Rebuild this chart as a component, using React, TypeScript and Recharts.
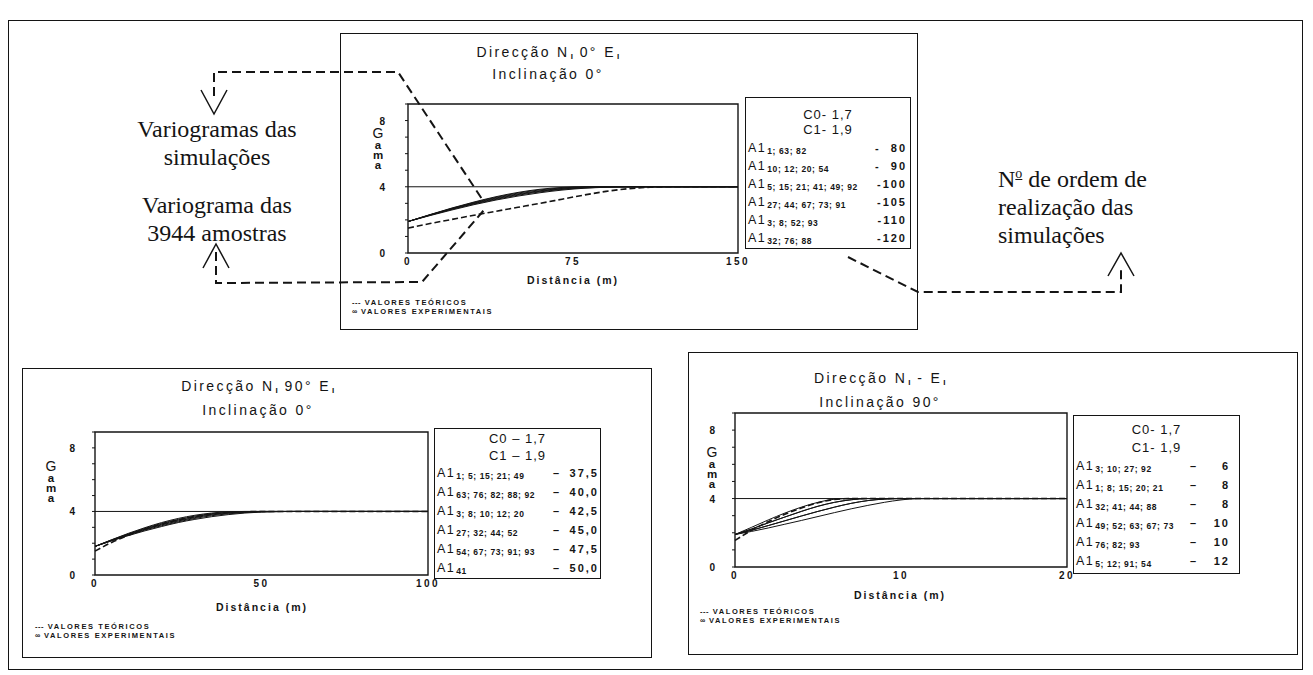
import React from 'react';
import { LineChart, Line, XAxis, YAxis, ReferenceLine, ReferenceArea } from 'recharts';

// ---------- shared ----------
const SILL = 4;
const Y_TICKS = [0, 1, 2, 3, 4, 5, 6, 7, 8, 9];
const Y_LABELS = [0, 4, 8];

// ---------- top panel: Direcção N 0° E, Inclinação 0° ----------
const TOP_DIST = [0, 10, 20, 30, 40, 50, 60, 70, 80, 90, 100, 110, 120, 130, 140, 150];
const TOP_SIM_80 = [1.9, 2.32, 2.72, 3.08, 3.4, 3.66, 3.85, 3.96, 4.0, 4.0, 4.0, 4.0, 4.0, 4.0, 4.0, 4.0];
const TOP_SIM_90 = [1.9, 2.31, 2.7, 3.05, 3.36, 3.62, 3.81, 3.93, 3.99, 4.0, 4.0, 4.0, 4.0, 4.0, 4.0, 4.0];
const TOP_SIM_100 = [1.9, 2.3, 2.68, 3.02, 3.32, 3.57, 3.76, 3.9, 3.97, 4.0, 4.0, 4.0, 4.0, 4.0, 4.0, 4.0];
const TOP_SIM_105 = [1.9, 2.29, 2.66, 2.99, 3.28, 3.53, 3.73, 3.87, 3.95, 3.99, 4.0, 4.0, 4.0, 4.0, 4.0, 4.0];
const TOP_SIM_110 = [1.9, 2.28, 2.64, 2.96, 3.24, 3.49, 3.69, 3.84, 3.93, 3.98, 4.0, 4.0, 4.0, 4.0, 4.0, 4.0];
const TOP_SIM_120 = [1.9, 2.26, 2.6, 2.92, 3.2, 3.44, 3.64, 3.8, 3.91, 3.97, 4.0, 4.0, 4.0, 4.0, 4.0, 4.0];
const TOP_THEO = [1.5, 1.78, 2.03, 2.28, 2.52, 2.76, 3.0, 3.25, 3.5, 3.72, 3.88, 3.97, 4.0, 4.0, 4.0, 4.0];
const TOP_X_TICKS = [0, 75, 150];
const TOP_SETS = ['1; 63; 82', '10; 12; 20; 54', '5; 15; 21; 41; 49; 92', '27; 44; 67; 73; 91', '3; 8; 52; 93', '32; 76; 88'];
const TOP_RANGES = ['80', '90', '100', '105', '110', '120'];

// ---------- bottom-left panel: Direcção N 90° E, Inclinação 0° ----------
const BL_DIST = [0, 5, 10, 15, 20, 25, 30, 35, 40, 45, 50, 60, 70, 80, 90, 100];
const BL_SIM_375 = [1.8, 2.22, 2.62, 2.98, 3.3, 3.56, 3.76, 3.9, 3.98, 4.0, 4.0, 4.0, 4.0, 4.0, 4.0, 4.0];
const BL_SIM_400 = [1.8, 2.21, 2.59, 2.94, 3.25, 3.5, 3.71, 3.86, 3.95, 3.99, 4.0, 4.0, 4.0, 4.0, 4.0, 4.0];
const BL_SIM_425 = [1.8, 2.19, 2.56, 2.9, 3.2, 3.45, 3.66, 3.82, 3.92, 3.98, 4.0, 4.0, 4.0, 4.0, 4.0, 4.0];
const BL_SIM_450 = [1.8, 2.18, 2.54, 2.87, 3.15, 3.4, 3.61, 3.78, 3.89, 3.96, 3.99, 4.0, 4.0, 4.0, 4.0, 4.0];
const BL_SIM_475 = [1.8, 2.16, 2.51, 2.83, 3.1, 3.35, 3.56, 3.73, 3.85, 3.93, 3.98, 4.0, 4.0, 4.0, 4.0, 4.0];
const BL_SIM_500 = [1.8, 2.15, 2.48, 2.78, 3.05, 3.3, 3.5, 3.67, 3.8, 3.9, 3.96, 4.0, 4.0, 4.0, 4.0, 4.0];
const BL_THEO = [1.5, 2.05, 2.5, 2.88, 3.2, 3.46, 3.67, 3.83, 3.93, 3.98, 4.0, 4.0, 4.0, 4.0, 4.0, 4.0];
const BL_X_TICKS = [0, 50, 100];
const BL_SETS = ['1; 5; 15; 21; 49', '63; 76; 82; 88; 92', '3; 8; 10; 12; 20', '27; 32; 44; 52', '54; 67; 73; 91; 93', '41'];
const BL_RANGES = ['37,5', '40,0', '42,5', '45,0', '47,5', '50,0'];

// ---------- bottom-right panel: Direcção N - E, Inclinação 90° ----------
const BR_DIST = [0, 1, 2, 3, 4, 5, 6, 7, 8, 9, 10, 11, 12, 14, 16, 18, 20];
const BR_SIM_6 = [1.9, 2.32, 2.75, 3.15, 3.5, 3.78, 3.96, 4.0, 4.0, 4.0, 4.0, 4.0, 4.0, 4.0, 4.0, 4.0, 4.0];
const BR_SIM_8A = [1.9, 2.22, 2.58, 2.92, 3.25, 3.55, 3.78, 3.93, 4.0, 4.0, 4.0, 4.0, 4.0, 4.0, 4.0, 4.0, 4.0];
const BR_SIM_8B = [1.9, 2.22, 2.58, 2.92, 3.25, 3.55, 3.78, 3.93, 4.0, 4.0, 4.0, 4.0, 4.0, 4.0, 4.0, 4.0, 4.0];
const BR_SIM_10A = [1.9, 2.15, 2.42, 2.7, 2.98, 3.25, 3.5, 3.72, 3.88, 3.97, 4.0, 4.0, 4.0, 4.0, 4.0, 4.0, 4.0];
const BR_SIM_10B = [1.9, 2.15, 2.42, 2.7, 2.98, 3.25, 3.5, 3.72, 3.88, 3.97, 4.0, 4.0, 4.0, 4.0, 4.0, 4.0, 4.0];
const BR_SIM_12 = [1.9, 2.08, 2.28, 2.5, 2.72, 2.95, 3.18, 3.4, 3.6, 3.78, 3.92, 4.0, 4.0, 4.0, 4.0, 4.0, 4.0];
const BR_THEO = [1.55, 2.15, 2.65, 3.08, 3.45, 3.75, 3.95, 4.0, 4.0, 4.0, 4.0, 4.0, 4.0, 4.0, 4.0, 4.0, 4.0];
const BR_X_TICKS = [0, 10, 20];
const BR_SETS = ['3; 10; 27; 92', '1; 8; 15; 20; 21', '32; 41; 44; 88', '49; 52; 63; 67; 73', '76; 82; 93', '5; 12; 91; 54'];
const BR_RANGES = ['6', '8', '8', '10', '10', '12'];

// ---------- styling helpers ----------
const SANS = '"Liberation Sans", Arial, Helvetica, sans-serif';
const SERIF = '"Liberation Serif", "Times New Roman", Times, serif';
const INK = '#141414';

type Box = { x: number; y: number; w: number; h: number };
type PanelCfg = {
  box: Box;
  dirLabel: string;
  incl: string;
  titleX: number;
  title1Y: number;
  title2Y: number;
  plot: Box;
  xMax: number;
  xTicks: number[];
  dist: number[];
  sims: number[][];
  theo: number[];
  gamaX: number;
  gamaY: number;
  xLabelX: number;
  xLabelY: number;
  legX: number;
  legY: number;
  lbox: Box;
  c0: string;
  c1: string;
  headY: number[];
  rowY0: number;
  rowStep: number;
  sets: string[];
  ranges: string[];
  dash: string;
  dashX: number | null;
  numRight: number;
  yGap: number;
};

const sub = (t: string) => (
  <span style={{ fontSize: 8, fontWeight: 700, letterSpacing: 0.5, position: 'relative', top: 2, marginLeft: 1 }}>{t}</span>
);

function Title({ cfg }: { cfg: PanelCfg }) {
  const common: React.CSSProperties = {
    position: 'absolute',
    left: cfg.titleX - 150,
    width: 300,
    textAlign: 'center',
    fontFamily: SANS,
    fontSize: 14,
    letterSpacing: 2.4,
    color: INK,
    lineHeight: '16px',
    whiteSpace: 'nowrap',
  };
  return (
    <>
      <div style={{ ...common, top: cfg.title1Y - 8 }}>
        Direcção N{sub('I')} {cfg.dirLabel} E{sub('I')}
      </div>
      <div style={{ ...common, top: cfg.title2Y - 8 }}>{cfg.incl}</div>
    </>
  );
}

function Panel({ cfg }: { cfg: PanelCfg }) {
  const rows = cfg.dist.map((d, i) => {
    const r: Record<string, number> = { d, t: cfg.theo[i] };
    cfg.sims.forEach((s, k) => {
      r['s' + k] = s[i];
    });
    return r;
  });
  const mL = 6;
  const yw = 36;
  const mT = 6;
  const mR = 22;
  const xh = 22;
  const mB = 4;
  const cw = cfg.plot.w + mL + yw + mR;
  const ch = cfg.plot.h + mT + xh + mB;

  const renderYTick = (props: any) => {
    const { x, y, payload } = props;
    if (!Y_LABELS.includes(payload.value)) return <g />;
    return (
      <text x={x} y={y} dy={4} textAnchor="end" fontFamily={SANS} fontSize={10} fontWeight={700} fill={INK}>
        {payload.value}
      </text>
    );
  };

  const tickStyle = { fontFamily: SANS, fontSize: 10, fontWeight: 700, fill: INK, letterSpacing: 2.5 };

  const lb = cfg.lbox;
  const gamaLetter: React.CSSProperties = { height: 10, lineHeight: '10px', fontSize: 11.5, fontWeight: 700 };
  return (
    <>
      <div
        style={{
          position: 'absolute',
          left: cfg.box.x,
          top: cfg.box.y,
          width: cfg.box.w,
          height: cfg.box.h,
          border: `1.5px solid ${INK}`,
          boxSizing: 'border-box',
        }}
      />
      <Title cfg={cfg} />
      {/* Gama vertical label */}
      <div
        style={{
          position: 'absolute',
          left: cfg.gamaX - 8,
          top: cfg.gamaY,
          width: 16,
          textAlign: 'center',
          fontFamily: SANS,
          color: INK,
        }}
      >
        <div style={{ height: 13, lineHeight: '13px', fontSize: 14 }}>G</div>
        <div style={gamaLetter}>a</div>
        <div style={gamaLetter}>m</div>
        <div style={gamaLetter}>a</div>
      </div>
      <div style={{ position: 'absolute', left: cfg.plot.x - mL - yw, top: cfg.plot.y - mT }}>
        <LineChart width={cw} height={ch} data={rows} margin={{ top: mT, right: mR, bottom: mB, left: mL }}>
          <XAxis
            dataKey="d"
            type="number"
            domain={[0, cfg.xMax]}
            ticks={cfg.xTicks}
            axisLine={false}
            tickLine={false}
            tickSize={0}
            tickMargin={5}
            height={xh}
            interval={0}
            tick={tickStyle}
          />
          <YAxis
            type="number"
            domain={[0, 9]}
            ticks={Y_TICKS}
            interval={0}
            axisLine={false}
            tickLine={{ stroke: INK, strokeWidth: 1 }}
            tickSize={3}
            tickMargin={cfg.yGap}
            width={yw}
            tick={renderYTick}
          />
          <ReferenceArea x1={0} x2={cfg.xMax} y1={0} y2={9} fill="none" fillOpacity={0} stroke={INK} strokeWidth={1.4} ifOverflow="visible" />
          <ReferenceLine y={SILL} stroke={INK} strokeWidth={1} />
          {cfg.sims.map((_, k) => (
            <Line
              key={k}
              dataKey={'s' + k}
              type="monotone"
              stroke={INK}
              strokeWidth={1}
              dot={false}
              isAnimationActive={false}
            />
          ))}
          <Line
            dataKey="t"
            type="monotone"
            stroke={INK}
            strokeWidth={1.6}
            strokeDasharray="6 3"
            dot={false}
            isAnimationActive={false}
          />
        </LineChart>
      </div>
      {/* x axis title */}
      <div
        style={{
          position: 'absolute',
          left: cfg.xLabelX - 100,
          top: cfg.xLabelY - 7,
          width: 200,
          textAlign: 'center',
          fontFamily: SANS,
          fontSize: 10.5,
          fontWeight: 700,
          letterSpacing: 2,
          color: INK,
          lineHeight: '14px',
        }}
      >
        Distância (m)
      </div>
      {/* bottom legend */}
      <div
        style={{
          position: 'absolute',
          left: cfg.legX,
          top: cfg.legY,
          fontFamily: SANS,
          fontSize: 7.5,
          fontWeight: 700,
          letterSpacing: 1.6,
          lineHeight: '9px',
          color: INK,
          whiteSpace: 'nowrap',
        }}
      >
        <div>
          <span style={{ letterSpacing: 0.5 }}>---</span> VALORES TEÓRICOS
        </div>
        <div>
          <span style={{ letterSpacing: 0 }}>∞</span> VALORES EXPERIMENTAIS
        </div>
      </div>
      {/* legend box */}
      <div
        style={{
          position: 'absolute',
          left: lb.x,
          top: lb.y,
          width: lb.w,
          height: lb.h,
          border: `1.5px solid ${INK}`,
          boxSizing: 'border-box',
        }}
      />
      {[cfg.c0, cfg.c1].map((t, i) => (
        <div
          key={'h' + i}
          style={{
            position: 'absolute',
            left: lb.x,
            width: lb.w,
            top: cfg.headY[i] - 8,
            textAlign: 'center',
            fontFamily: SANS,
            fontSize: 13,
            letterSpacing: 1,
            lineHeight: '16px',
            color: INK,
            whiteSpace: 'pre',
          }}
        >
          {t}
        </div>
      ))}
      {cfg.sets.map((s, i) => {
        const y = cfg.rowY0 + i * cfg.rowStep;
        return (
          <React.Fragment key={'r' + i}>
            <div
              style={{
                position: 'absolute',
                left: lb.x + 3,
                top: y - 9,
                fontFamily: SANS,
                fontSize: 12.5,
                letterSpacing: 1.5,
                lineHeight: '15px',
                color: INK,
                whiteSpace: 'nowrap',
              }}
            >
              A1
              <span style={{ fontSize: 8.5, fontWeight: 700, letterSpacing: 0.6, position: 'relative', top: 2, marginLeft: 1 }}>
                {s}
              </span>
            </div>
            {cfg.dashX !== null && (
              <div
                style={{
                  position: 'absolute',
                  left: cfg.dashX,
                  top: y - 9,
                  fontFamily: SANS,
                  fontSize: 11,
                  fontWeight: 700,
                  lineHeight: '15px',
                  color: INK,
                }}
              >
                {cfg.dash}
              </div>
            )}
            <div
              style={{
                position: 'absolute',
                left: cfg.numRight - 60,
                width: 60,
                textAlign: 'right',
                top: y - 9,
                fontFamily: SANS,
                fontSize: 11,
                fontWeight: 700,
                letterSpacing: 2,
                lineHeight: '15px',
                color: INK,
                whiteSpace: 'pre',
              }}
            >
              {cfg.dashX === null ? `${cfg.dash}${cfg.ranges[i].length < 3 ? '  ' : ''}${cfg.ranges[i]}` : cfg.ranges[i]}
            </div>
          </React.Fragment>
        );
      })}
    </>
  );
}

const TOP_CFG: PanelCfg = {
  box: { x: 340, y: 33, w: 578, h: 297 },
  dirLabel: '0°',
  incl: 'Inclinação 0°',
  titleX: 548,
  title1Y: 52,
  title2Y: 74,
  plot: { x: 408, y: 104, w: 330, h: 149 },
  xMax: 150,
  xTicks: TOP_X_TICKS,
  dist: TOP_DIST,
  sims: [TOP_SIM_80, TOP_SIM_90, TOP_SIM_100, TOP_SIM_105, TOP_SIM_110, TOP_SIM_120],
  theo: TOP_THEO,
  gamaX: 378,
  gamaY: 127,
  xLabelX: 573,
  xLabelY: 280,
  legX: 352,
  legY: 298,
  lbox: { x: 745, y: 97, w: 166, h: 152 },
  c0: 'C0- 1,7',
  c1: 'C1- 1,9',
  headY: [115, 130],
  rowY0: 150,
  rowStep: 18,
  sets: TOP_SETS,
  ranges: TOP_RANGES,
  dash: '-',
  dashX: null,
  numRight: 907,
  yGap: 20,
};

const BL_CFG: PanelCfg = {
  box: { x: 22, y: 368, w: 630, h: 290 },
  dirLabel: '90°',
  incl: 'Inclinação 0°',
  titleX: 258,
  title1Y: 386,
  title2Y: 410,
  plot: { x: 95, y: 432, w: 333, h: 143 },
  xMax: 100,
  xTicks: BL_X_TICKS,
  dist: BL_DIST,
  sims: [BL_SIM_375, BL_SIM_400, BL_SIM_425, BL_SIM_450, BL_SIM_475, BL_SIM_500],
  theo: BL_THEO,
  gamaX: 51,
  gamaY: 460,
  xLabelX: 262,
  xLabelY: 607,
  legX: 35,
  legY: 622,
  lbox: { x: 434, y: 428, w: 167, h: 151 },
  c0: 'C0 – 1,7',
  c1: 'C1 – 1,9',
  headY: [439, 456],
  rowY0: 475,
  rowStep: 19,
  sets: BL_SETS,
  ranges: BL_RANGES,
  dash: '–',
  dashX: 553,
  numRight: 599,
  yGap: 17,
};

const BR_CFG: PanelCfg = {
  box: { x: 688, y: 352, w: 610, h: 303 },
  dirLabel: '-',
  incl: 'Inclinação 90°',
  titleX: 880,
  title1Y: 378,
  title2Y: 402,
  plot: { x: 735, y: 413, w: 332, h: 154 },
  xMax: 20,
  xTicks: BR_X_TICKS,
  dist: BR_DIST,
  sims: [BR_SIM_6, BR_SIM_8A, BR_SIM_8B, BR_SIM_10A, BR_SIM_10B, BR_SIM_12],
  theo: BR_THEO,
  gamaX: 712,
  gamaY: 446,
  xLabelX: 900,
  xLabelY: 595,
  legX: 700,
  legY: 607,
  lbox: { x: 1073, y: 415, w: 167, h: 159 },
  c0: 'C0- 1,7',
  c1: 'C1- 1,9',
  headY: [430, 448],
  rowY0: 468,
  rowStep: 19,
  sets: BR_SETS,
  ranges: BR_RANGES,
  dash: '–',
  dashX: 1190,
  numRight: 1230,
  yGap: 17,
};

function Annotations() {
  const dash = { stroke: INK, strokeWidth: 2, strokeDasharray: '9 5', fill: 'none' };
  const arrow = { stroke: INK, strokeWidth: 1.5, fill: 'none' };
  return (
    <svg width={1313} height={675} style={{ position: 'absolute', left: 0, top: 0, pointerEvents: 'none' }}>
      {/* simulations variograms */}
      <path d="M214,96 L214,72 L398,72 L484,202" {...dash} />
      <path d="M201,90 L214,114 L227,90" {...arrow} />
      {/* sample variogram */}
      <path d="M216,252 L216,283 L422,282 L484,210" {...dash} />
      <path d="M203,268 L216,244 L229,268" {...arrow} />
      {/* order numbers */}
      <path d="M848,257 L918,292 L1121,292 L1121,270" {...dash} />
      <path d="M1108,276 L1121,253 L1134,276" {...arrow} />
    </svg>
  );
}

const serifText: React.CSSProperties = {
  position: 'absolute',
  fontFamily: SERIF,
  fontSize: 24,
  lineHeight: '28px',
  color: INK,
  whiteSpace: 'nowrap',
};

export default function App() {
  return (
    <div style={{ position: 'absolute', left: 0, top: 0, width: 1313, height: 675, background: '#fff', overflow: 'hidden' }}>
      {/* outer frame */}
      <div
        style={{
          position: 'absolute',
          left: 8,
          top: 20,
          width: 1295,
          height: 650,
          border: `1.5px solid ${INK}`,
          boxSizing: 'border-box',
        }}
      />
      <Panel cfg={TOP_CFG} />
      <Panel cfg={BL_CFG} />
      <Panel cfg={BR_CFG} />
      {/* left notes */}
      <div style={{ ...serifText, left: 67, width: 300, textAlign: 'center', top: 115 }}>
        Variogramas das
        <br />
        simulações
      </div>
      <div style={{ ...serifText, left: 67, width: 300, textAlign: 'center', top: 191 }}>
        Variograma das
        <br />
        3944 amostras
      </div>
      {/* right note */}
      <div style={{ ...serifText, left: 998, top: 160 }}>
        N<sup style={{ fontSize: 14, textDecoration: 'underline' }}>o</sup> de ordem de
        <br />
        realização das
        <br />
        simulações
      </div>
      <Annotations />
    </div>
  );
}
